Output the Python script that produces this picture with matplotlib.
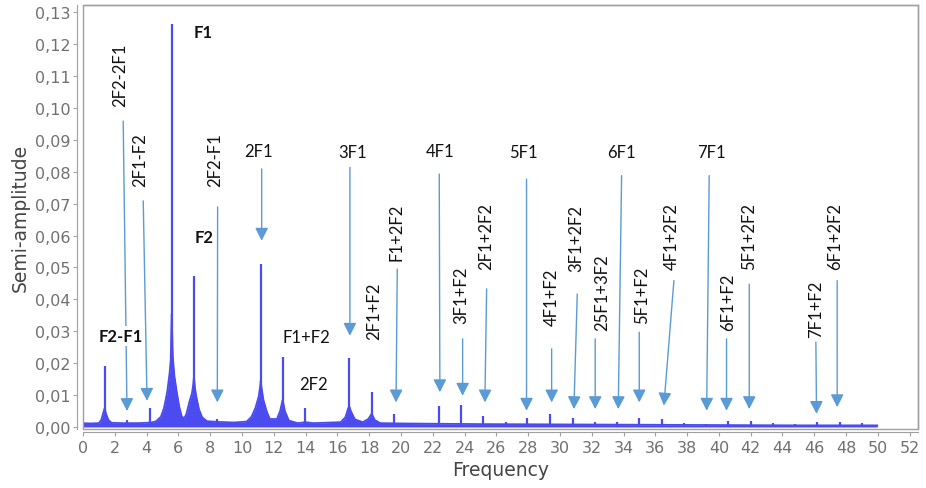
import matplotlib
matplotlib.use("Agg")
import matplotlib.pyplot as plt
import matplotlib.patches as patches
from matplotlib.ticker import FuncFormatter, MultipleLocator

# continuum + spectral-window skirts
env_freq = [0.0, 0.5, 1.0, 1.15, 1.28, 1.36, 1.45, 1.6, 1.8, 2.5, 3.5, 4.3, 4.6, 4.9,
            5.1, 5.3, 5.45, 5.52, 5.58, 5.65, 5.75, 5.9, 6.05, 6.2, 6.35, 6.5,
            6.7, 6.85, 6.93, 6.98, 7.05, 7.15, 7.3, 7.5, 7.8, 8.5, 9.5, 10.3,
            10.6, 10.85, 11.05, 11.14, 11.18, 11.24, 11.35, 11.55, 11.75, 12.2, 12.4,
            12.56, 12.7, 12.95, 13.5, 14.0, 14.5, 16.2, 16.5, 16.68, 16.75, 16.85,
            17.1, 17.6, 17.95, 18.16, 18.35, 18.7, 20.0, 25.0, 30.0, 35.0, 40.0,
            45.0, 49.96]
env_amp = [0.0012, 0.0011, 0.0012, 0.0022, 0.0045, 0.0058, 0.0042, 0.0022, 0.0013,
           0.0012, 0.0012, 0.0014, 0.0018, 0.0032, 0.0060, 0.0110, 0.0170, 0.0210,
           0.0355, 0.0220, 0.0160, 0.0110, 0.0065, 0.0035, 0.0026, 0.0040, 0.0080,
           0.0105, 0.0130, 0.0157, 0.0120, 0.0090, 0.0055, 0.0030, 0.0018, 0.0016,
           0.0014, 0.0017, 0.0032, 0.0060, 0.0095, 0.0125, 0.0145, 0.0120, 0.0085,
           0.0050, 0.0025, 0.0025, 0.0050, 0.0085, 0.0050, 0.0020, 0.0012, 0.0015,
           0.0012, 0.0015, 0.0030, 0.0058, 0.0065, 0.0050, 0.0024, 0.0015, 0.0025,
           0.0042, 0.0022, 0.0012, 0.0011, 0.0009, 0.0008, 0.0007, 0.0006, 0.0005,
           0.0005]

# narrow peaks
peak_freq = [1.36, 2.77, 4.19, 5.58, 6.98, 8.40, 11.18, 12.56, 13.96, 16.75, 18.16,
             19.56, 22.39, 23.75, 25.18, 26.60, 27.94, 29.37, 30.80, 32.20, 33.60,
             34.99, 36.40, 37.80, 39.20, 40.60, 42.02, 43.40, 44.80, 46.20, 47.60,
             49.00]
peak_amp = [0.0192, 0.0022, 0.0060, 0.1263, 0.0474, 0.0024, 0.0511, 0.0218, 0.0059,
            0.0215, 0.0110, 0.0040, 0.0065, 0.0069, 0.0035, 0.0015, 0.0027, 0.0040,
            0.0027, 0.0015, 0.0015, 0.0028, 0.0024, 0.0012, 0.0010, 0.0019, 0.0019,
            0.0012, 0.0010, 0.0017, 0.0017, 0.0012]

# arrow annotations: label, label pos, rotation, arrow tail, arrow tip
ann_label = ["2F2-2F1", "2F1-F2", "2F2-F1", "2F1", "3F1", "F1+2F2", "4F1", "3F1+F2",
             "2F1+2F2", "5F1", "4F1+F2", "3F1+2F2", "25F1+3F2", "6F1", "5F1+F2",
             "4F1+2F2", "7F1", "6F1+F2", "5F1+2F2", "7F1+F2", "6F1+2F2"]
ann_x = [2.31, 3.62, 8.30, 11.03, 16.96, 19.73, 22.45, 23.82, 25.35, 27.69, 29.48,
         31.00, 32.68, 33.88, 35.14, 37.02, 39.54, 40.58, 41.91, 46.10, 47.30]
ann_y = [0.1105, 0.0840, 0.0840, 0.0866, 0.0861, 0.0615, 0.0866, 0.0417, 0.0599,
         0.0861, 0.0409, 0.0595, 0.0425, 0.0861, 0.0417, 0.0600, 0.0861, 0.0393,
         0.0600, 0.0373, 0.0600]
ann_rot = [90, 90, 90, 0, 0, 90, 0, 90, 90, 0, 90, 90, 90, 0, 90, 90, 0, 90, 90, 90, 90]
tail_x = [2.53, 3.79, 8.47, 11.24, 16.79, 19.77, 22.41, 23.88, 25.39, 27.90, 29.48,
          31.09, 32.22, 33.88, 34.99, 37.17, 39.39, 40.48, 41.91, 46.10, 47.44]
tail_y = [0.0959, 0.0709, 0.0690, 0.0809, 0.0814, 0.0495, 0.0793, 0.0276, 0.0433,
          0.0777, 0.0245, 0.0417, 0.0276, 0.0788, 0.0297, 0.0459, 0.0788, 0.0276,
          0.0448, 0.0266, 0.0459]
tip_x = [2.77, 4.03, 8.45, 11.24, 16.79, 19.69, 22.45, 23.88, 25.28, 27.90, 29.48,
         30.88, 32.22, 33.67, 34.99, 36.54, 39.23, 40.48, 41.91, 46.14, 47.44]
tip_y = [0.0050, 0.0082, 0.0077, 0.0584, 0.0286, 0.0077, 0.0109, 0.0098, 0.0077,
         0.0051, 0.0077, 0.0056, 0.0056, 0.0056, 0.0077, 0.0067, 0.0051, 0.0051,
         0.0056, 0.0041, 0.0062]

# plain labels (no arrow)
lab_text = ["F1", "F2", "F2-F1", "F1+F2", "2F2", "2F1+F2"]
lab_x = [7.57, 7.61, 2.39, 14.07, 14.49, 18.33]
lab_y = [0.1237, 0.0595, 0.0286, 0.0281, 0.0135, 0.0365]
lab_rot = [0, 0, 0, 0, 0, 90]
lab_bold = [True, True, True, False, False, False]

blue = "#4b4bf0"
arrow_col = "#5b9bd5"
grey = "#a0a0a0"

fig = plt.figure(figsize=(9.26, 4.89), dpi=100)
ax = fig.add_axes([0.0896, 0.1207, 0.9017, 0.867])
ax.set_xlim(0, 52.52)
ax.set_ylim(-0.00063, 0.1323)

# spectrum
ax.fill_between(env_freq, 0, env_amp, color=blue, linewidth=0, zorder=2)
ax.plot(env_freq, env_amp, color=blue, linewidth=1.3, zorder=2)
ax.vlines(peak_freq, 0, peak_amp, color=blue, linewidth=1.6, zorder=2)

# arrows
for i in range(len(ann_label)):
    ax.annotate("", xy=(tip_x[i], tip_y[i]), xytext=(tail_x[i], tail_y[i]),
                arrowprops=dict(arrowstyle="-|>,head_length=0.55,head_width=0.28",
                                mutation_scale=14, color=arrow_col, lw=1.0,
                                shrinkA=0, shrinkB=0), zorder=3)
    ax.text(ann_x[i], ann_y[i], ann_label[i], rotation=ann_rot[i], ha="center",
            va="center", fontsize=12, family="Lato", color="#111111", zorder=4,
            bbox=dict(facecolor="white", edgecolor="none", pad=1.5))

for i in range(len(lab_text)):
    ax.text(lab_x[i], lab_y[i], lab_text[i], rotation=lab_rot[i], ha="center",
            va="center", fontsize=12, family="Lato",
            fontweight="bold" if lab_bold[i] else "normal", color="#111111", zorder=4,
            bbox=dict(facecolor="white", edgecolor="none", pad=1.5))

# frame and offset axes
for s in ["top", "right"]:
    ax.spines[s].set_color(grey)
    ax.spines[s].set_linewidth(1.0)
ax.spines["left"].set_position(("outward", 4.3))
ax.spines["bottom"].set_position(("outward", 2.2))
ax.spines["left"].set_color(grey)
ax.spines["bottom"].set_color(grey)
ax.add_patch(patches.Rectangle((0, 0), 1, 1, transform=ax.transAxes, fill=False,
                               edgecolor=grey, linewidth=1.0, clip_on=False, zorder=5))

ax.xaxis.set_major_locator(MultipleLocator(2))
ax.yaxis.set_major_locator(MultipleLocator(0.01))
ax.yaxis.set_major_formatter(FuncFormatter(lambda v, p: ("%.2f" % v).replace(".", ",")))
ax.xaxis.set_major_formatter(FuncFormatter(lambda v, p: "%d" % round(v)))
ax.tick_params(direction="out", length=3, color=grey, labelcolor="#707070",
               labelsize=11.5)
ax.tick_params(axis="x", pad=3)
ax.tick_params(axis="y", pad=1.5)

ax.set_xlabel("Frequency", fontsize=13.5, color="#444444", labelpad=3)
ax.set_ylabel("Semi-amplitude", fontsize=13.5, color="#444444", labelpad=4)

plt.savefig("out.png", dpi=100)
